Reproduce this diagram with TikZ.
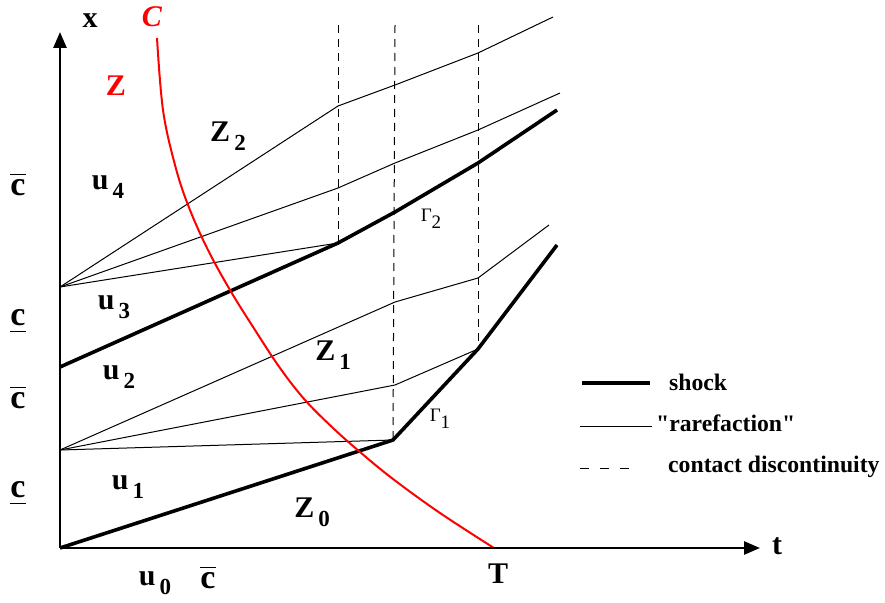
\documentclass[tikz,border=0pt]{standalone}
\usepackage{fontspec}
\setmainfont{Liberation Serif}
\usetikzlibrary{arrows.meta}
\newcommand\labsub[2]{#1\hspace{4pt}\raisebox{-0.3em}{\fontsize{23}{25}\selectfont #2}}
\newcommand\gamsub[1]{Γ\raisebox{-0.35em}{\fontsize{19}{21}\selectfont #1}}
\newcommand\cover{\vbox{\hrule height 1.6pt\kern4.5pt\hbox{c}}}
\newcommand\cunder{\vbox{\hbox{c}\kern4.5pt\hrule height 1.6pt}}
\begin{document}
\begin{tikzpicture}[x=1pt,y=-1pt,
 shockline/.style={line width=3.6pt, line join=round},
 rare/.style={line width=1pt, line join=round},
 contact/.style={line width=1pt, dash pattern=on 8pt off 6pt},
 legcontact/.style={line width=1pt, dash pattern=on 9pt off 11pt},
 axis/.style={line width=2.6pt, -{Triangle[length=16pt,width=13pt]}},
 lab/.style={font=\fontsize{30}{34}\selectfont\bfseries, inner sep=0pt},
 clab/.style={font=\fontsize{34}{38}\selectfont\bfseries, inner sep=0pt},
 leg/.style={font=\fontsize{23.7}{27}\selectfont\bfseries, anchor=west, inner sep=0pt},
 gam/.style={font=\fontsize{19}{22}\selectfont, inner sep=0pt},
 redc/.style={red, line width=2pt},
]
\useasboundingbox (0,0) rectangle (885,602);
% key points
\coordinate (O) at (60,548);
\coordinate (ytip) at (60,32);
\coordinate (xtip) at (760,548);
\coordinate (F2) at (60,287);
\coordinate (F1) at (60,450);
\coordinate (S2) at (60,367);
% upper family
\coordinate (a1) at (338,106); \coordinate (a2) at (395,85); \coordinate (a3) at (478,53); \coordinate (a4) at (553,17);
\coordinate (b1) at (338,188); \coordinate (b2) at (395,163); \coordinate (b3) at (478,130); \coordinate (b4) at (560,93);
\coordinate (k2) at (338,243); \coordinate (s2b) at (395,212); \coordinate (s2c) at (478,163); \coordinate (s2d) at (557,110);
% lower family
\coordinate (c1) at (395,302); \coordinate (c2) at (478,278); \coordinate (c3) at (549,225);
\coordinate (d1) at (395,385); \coordinate (k1b) at (478,349);
\coordinate (k1a) at (393,440); \coordinate (s1d) at (557,245);
% dashed tops
\coordinate (t1) at (338,25); \coordinate (t2) at (395,25); \coordinate (t3) at (478,25);

% contact discontinuities
\draw[contact] (t1) -- (k2);
\draw[contact] (t2) -- (k1a);
\draw[contact] (t3) -- (k1b);

% rarefactions
\draw[rare] (F2) -- (a1) -- (a2) -- (a3) -- (a4);
\draw[rare] (F2) -- (b1) -- (b2) -- (b3) -- (b4);
\draw[rare] (F2) -- (k2);
\draw[rare] (F1) -- (c1) -- (c2) -- (c3);
\draw[rare] (F1) -- (d1) -- (k1b);
\draw[rare] (F1) -- (k1a);

% shocks
\draw[shockline] (S2) -- (k2) -- (s2b) -- (s2c) -- (s2d);
\draw[shockline] (O) -- (k1a) -- (k1b) -- (s1d);

% red curve
\coordinate (Ttop) at (157,38);
\coordinate (Tend) at (494,548);
\draw[redc] plot[smooth, tension=0.6] coordinates {(Ttop) (163,110) (175,165) (188,205) (207,248) (230,290) (255,330) (280,368) (305,400) (333,428) (360,452) (393,479) (440,513) (Tend)};

% axes
\draw[axis] (O) -- (ytip);
\draw[axis] (O) -- (xtip);

% labels
\node[lab] (lx) at (90,21) {x};
\node[lab, red, font=\fontsize{30}{34}\selectfont\bfseries\itshape] (lC) at (152,17) {C};
\node[lab, red] (lZ) at (116,86) {Z};
\node[lab] (lZ2) at (228,136) {\labsub{Z}{2}};
\node[lab] (lu4) at (108,187) {\labsub{u}{4}};
\node[lab] (lu3) at (114,307) {\labsub{u}{3}};
\node[lab] (lu2) at (119,377) {\labsub{u}{2}};
\node[lab] (lZ1) at (333,355) {\labsub{Z}{1}};
\node[lab] (lu1) at (128,487) {\labsub{u}{1}};
\node[lab] (lZ0) at (312,512) {\labsub{Z}{0}};
\node[lab] (lu0) at (155,583) {\labsub{u}{0}};
\node[lab] (lT) at (498,574) {T};
\node[lab] (lt) at (777,546) {t};
\node[clab] (cb1) at (18,185) {\cover};
\node[clab] (cu1) at (18,321) {\cunder};
\node[clab] (cb2) at (18,398) {\cover};
\node[clab] (cu2) at (18,493) {\cunder};
\node[clab] (cb3) at (208,578) {\cover};
\node[gam] (g2) at (431,219) {\gamsub{2}};
\node[gam] (g1) at (440,419) {\gamsub{1}};

% legend
\coordinate (L1a) at (582,383); \coordinate (L1b) at (650,383);
\coordinate (L2a) at (580,426); \coordinate (L2b) at (652,426);
\coordinate (L3a) at (580,468); \coordinate (L3b) at (640,468);
\draw[shockline] (L1a) -- (L1b);
\draw[rare] (L2a) -- (L2b);
\draw[legcontact] (L3a) -- (L3b);
\node[leg] (ls) at (669,382) {shock};
\node[leg] (lr) at (656,423) {\textquotedbl rarefaction\textquotedbl};
\node[leg] (lc) at (668,467) {contact discontinuity};
\end{tikzpicture}
\end{document}
